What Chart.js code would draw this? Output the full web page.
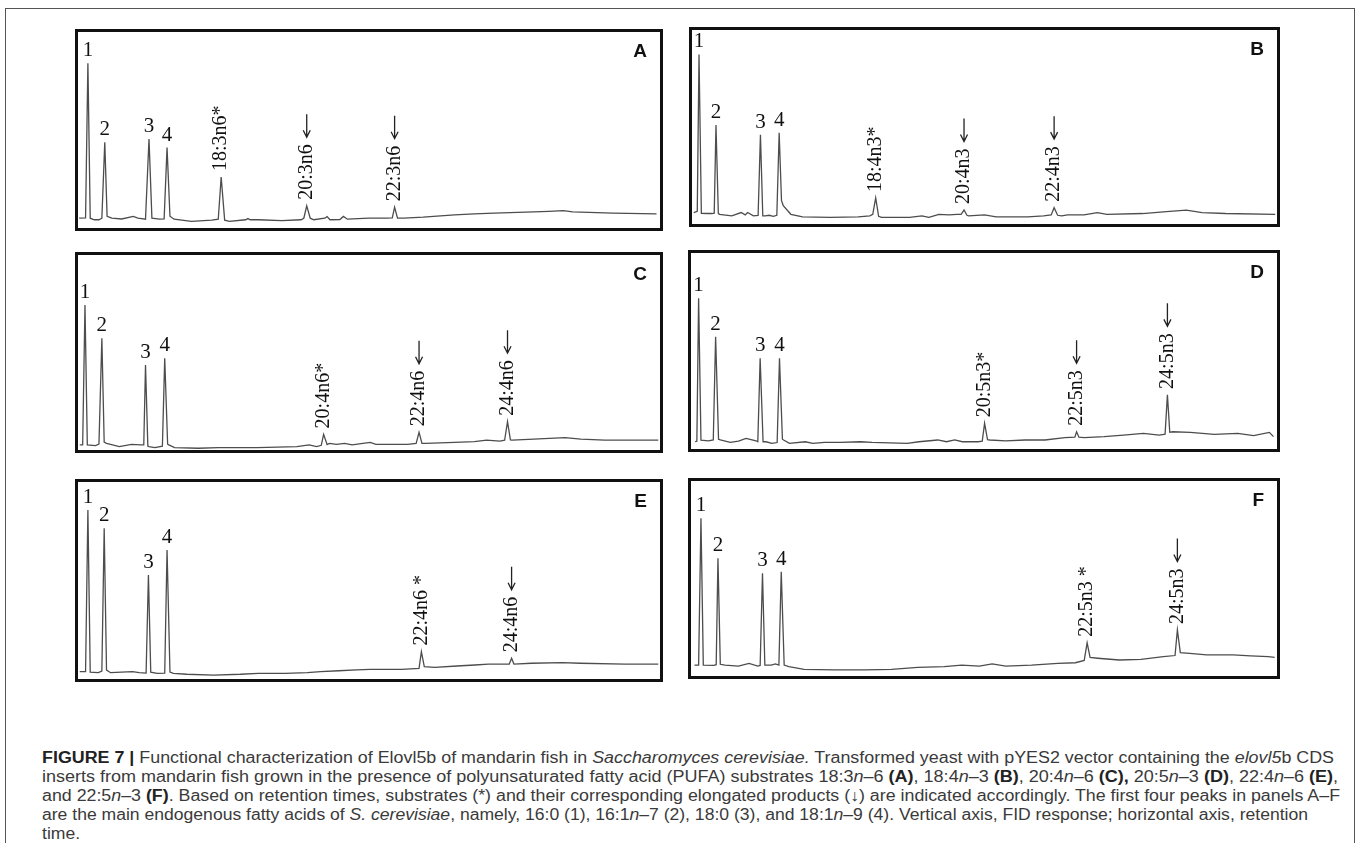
<!DOCTYPE html>
<html>
<head>
<meta charset="utf-8">
<script src="https://cdn.jsdelivr.net/npm/chart.js@4"></script>
<style>
html, body { margin: 0; padding: 0; background: #fff; }
body { width: 1357px; height: 843px; position: relative; overflow: hidden; }
#frame { position: absolute; left: 5px; top: 8px; width: 1350px; height: 900px; border: 1.5px solid #555; border-bottom: none; box-sizing: border-box; }
.panel { position: absolute; border: 3px solid #111; box-sizing: border-box; background: #fff; }
.panel canvas { display: block; }
#caption { position: absolute; left: 42px; top: 748px; color: #3a3a3a; font-family: "Liberation Sans Narrow", "Arial Narrow", "Liberation Sans", Arial, sans-serif; font-size: 16px; line-height: 19px; }
#caption b { color: #222; }
#caption .ln { display: table; white-space: nowrap; transform-origin: 0 0; }
</style>
</head>
<body>
<div id="frame"></div>

<div class="panel" style="left:75px;top:29px;width:588px;height:202px"><canvas id="cA" width="582" height="196"></canvas></div>
<div class="panel" style="left:689px;top:27px;width:591px;height:200px"><canvas id="cB" width="585" height="194"></canvas></div>
<div class="panel" style="left:75px;top:252px;width:588px;height:201px"><canvas id="cC" width="582" height="195"></canvas></div>
<div class="panel" style="left:688px;top:250px;width:592px;height:202px"><canvas id="cD" width="586" height="196"></canvas></div>
<div class="panel" style="left:75px;top:479px;width:588px;height:203px"><canvas id="cE" width="582" height="197"></canvas></div>
<div class="panel" style="left:688px;top:478px;width:592px;height:201px"><canvas id="cF" width="586" height="195"></canvas></div>

<div id="caption">
<div class="ln"><b>FIGURE 7 |</b> Functional characterization of Elovl5b of mandarin fish in <i>Saccharomyces cerevisiae.</i> Transformed yeast with pYES2 vector containing the <i>elovl5</i>b CDS</div>
<div class="ln">inserts from mandarin fish grown in the presence of polyunsaturated fatty acid (PUFA) substrates 18:3<i>n</i>–6 <b>(A)</b>, 18:4<i>n</i>–3 <b>(B)</b>, 20:4<i>n</i>–6 <b>(C),</b> 20:5<i>n</i>–3 <b>(D)</b>, 22:4<i>n</i>–6 <b>(E)</b>,</div>
<div class="ln">and 22:5<i>n</i>–3 <b>(F)</b>. Based on retention times, substrates (*) and their corresponding elongated products (↓) are indicated accordingly. The first four peaks in panels A–F</div>
<div class="ln">are the main endogenous fatty acids of <i>S. cerevisiae</i>, namely, 16:0 (1), 16:1<i>n</i>–7 (2), 18:0 (3), and 18:1<i>n</i>–9 (4). Vertical axis, FID response; horizontal axis, retention</div>
<div class="ln">time.</div>
</div>

<script>
// chromatogram traces: [retention time (% of run), FID response (% of panel)]
var traceA = [[0.2,5.0],[1.3,5.2],[1.7,84],[2.1,5.0],[2.8,4.2],[3.6,4.2],[4.1,5.0],[4.6,43.7],[5.0,6.0],[5.8,5.0],
  [7.5,4.6],[9.5,5.9],[10.3,5.0],[11.6,4.5],[12.2,45.4],[12.7,5.0],[14.0,4.5],[14.8,4.6],[15.3,41],[15.8,6.0],
  [16.5,4.5],[19.5,3.4],[23.0,4.0],[24.1,4.5],[24.6,26],[25.2,4.0],[26.0,3.4],[28.8,4.2],[29.2,4.8],[29.6,4.2],
  [31.0,4.2],[35.0,3.8],[38.3,4.2],[38.8,5.0],[39.3,11.3],[39.9,5.0],[40.5,4.2],[42.4,5.0],[42.8,5.8],[43.3,4.2],
  [45.0,4.3],[45.6,5.9],[46.3,4.5],[50.0,5.0],[53.0,5.0],[54.0,5.2],[54.4,10.6],[54.9,5.0],[56.0,5.0],[59.3,5.5],
  [64.7,6.7],[68.1,7.2],[71.5,7.6],[78.3,8.2],[80.9,8.5],[83.4,8.9],[85.0,8.2],[91.9,7.6],[99.4,7.2]];

var traceB = [[0.3,5.9],[0.9,6.5],[1.2,87.4],[1.6,5.5],[2.7,5.4],[3.4,5.4],[3.8,5.6],[4.1,51],[4.5,5.5],[4.7,5.0],
  [6.8,4.2],[8.4,5.9],[9.1,4.7],[9.5,5.9],[10.5,4.2],[11.3,4.4],[11.7,46],[12.1,4.2],[12.5,4.2],[13.2,4.5],
  [13.9,3.9],[14.5,4.5],[14.9,47],[15.3,12],[15.6,9.5],[16.9,5.0],[18.9,3.7],[23.6,3.4],[28.4,3.7],[30.4,4.2],
  [30.9,5.0],[31.4,13.4],[31.9,4.0],[32.4,3.4],[37.2,3.4],[39.3,4.2],[40.5,3.4],[42.2,5.0],[43.9,4.7],[45.3,5.0],
  [46.0,5.0],[46.5,7.2],[47.0,4.5],[47.3,4.2],[50.0,4.7],[52.0,3.7],[57.4,3.7],[60.1,4.2],[61.4,4.7],[61.9,8.4],
  [62.5,4.5],[63.2,4.2],[64.2,4.7],[67.0,4.7],[69.3,5.9],[70.9,5.0],[77.0,5.4],[81.1,6.4],[84.5,7.1],[87.2,5.9],
  [91.2,5.4],[99.7,5.0]];

var traceC = [[0.3,2.6],[0.8,2.6],[1.2,74.4],[1.6,2.6],[3.0,2.2],[3.6,3.0],[4.1,57.3],[4.5,4.0],[4.9,3.4],[7.1,1.7],
  [9.2,2.9],[10.8,2.6],[11.3,2.6],[11.6,43.6],[12.0,2.0],[12.2,1.7],[13.2,1.2],[14.5,2.0],[14.9,47],[15.4,3.0],
  [15.6,2.6],[16.6,1.2],[20.7,0.9],[24.1,1.2],[30.8,1.2],[37.6,1.7],[39.7,2.6],[41.0,1.7],[41.8,2.4],[42.2,8.0],
  [42.8,2.8],[43.2,3.4],[44.4,2.9],[45.8,3.4],[47.1,2.6],[50.2,3.9],[51.2,2.9],[56.6,2.9],[58.1,3.4],[58.6,9.1],
  [59.1,3.4],[59.7,3.4],[64.7,3.9],[68.1,4.3],[70.2,5.1],[72.5,4.6],[73.3,5.0],[73.8,14.5],[74.3,5.2],[74.6,5.1],
  [78.3,5.6],[83.7,6.3],[86.4,5.6],[90.5,5.1],[95.3,5.1],[99.7,5.1]];

var traceD = [[0.7,3.7],[1.0,4.0],[1.3,76.9],[1.7,4.5],[3.0,4.1],[3.8,4.6],[4.2,57.3],[4.7,5.0],[5.0,4.6],[6.7,3.4],
  [8.1,4.0],[9.4,5.4],[11.1,4.2],[11.4,3.7],[11.8,46.3],[12.3,3.7],[12.8,3.7],[13.8,2.9],[14.7,3.3],[15.1,46.3],
  [15.6,5.0],[15.8,4.6],[16.8,2.9],[19.5,3.7],[20.8,2.9],[22.8,3.4],[25.5,3.4],[28.9,3.7],[30.9,3.4],[36.9,2.9],
  [38.9,3.7],[42.1,4.6],[43.6,3.7],[45.0,4.6],[46.3,3.7],[49.0,3.7],[49.7,4.0],[50.1,13.1],[50.6,4.8],[51.0,4.6],
  [53.7,4.1],[57.0,4.6],[60.4,4.6],[63.8,5.8],[65.5,6.0],[65.8,8.8],[66.2,6.0],[67.1,5.8],[70.5,6.3],[73.8,7.1],
  [77.2,8.0],[79.9,7.1],[80.9,7.6],[81.3,27.6],[81.7,8.5],[82.2,8.8],[85.2,8.5],[89.3,7.5],[93.3,8.0],[96.0,6.8],
  [98.7,8.5],[99.4,6.3]];

var traceE = [[0.3,3.7],[1.3,3.7],[1.7,85.8],[2.1,3.5],[3.5,3.2],[4.1,4.0],[4.5,76.5],[4.9,4.5],[5.6,3.2],[9.4,3.7],
  [10.5,3.2],[11.7,3.0],[12.1,52.8],[12.5,3.5],[13.6,2.9],[14.9,3.0],[15.3,65.5],[15.8,3.5],[16.4,2.9],[18.7,2.4],
  [23.3,2.0],[27.9,2.4],[31.0,2.9],[35.6,2.9],[39.4,3.2],[41.7,3.7],[44.8,4.2],[47.9,4.6],[50.2,4.9],[55.6,4.9],
  [58.6,5.4],[59.0,13.9],[59.5,6.3],[61.3,5.9],[65.1,6.6],[68.2,7.1],[70.5,7.6],[74.1,7.6],[74.5,10.5],[74.9,7.6],
  [77.9,8.0],[83.2,8.3],[86.3,8.0],[94.0,7.6],[99.7,7.6]];

var traceF = [[0.6,5.6],[1.3,5.6],[1.7,80.9],[2.1,5.6],[3.9,5.4],[4.3,5.8],[4.6,60.4],[5.0,6.0],[5.8,5.6],[8.1,5.1],
  [9.9,6.5],[11.4,5.1],[11.8,5.4],[12.2,52.7],[12.6,5.6],[13.7,5.6],[14.4,6.2],[15.0,5.6],[15.4,53.5],[15.9,5.6],
  [16.7,4.8],[19.3,3.4],[24.5,3.1],[29.7,3.1],[34.2,3.4],[38.7,4.4],[43.2,4.8],[46.2,5.6],[49.2,5.1],[51.4,6.2],
  [53.7,5.1],[58.1,5.6],[62.6,6.5],[65.6,6.8],[67.1,8.0],[67.6,17.0],[68.1,9.5],[69.4,9.1],[73.1,8.2],[76.8,8.5],
  [80.6,9.9],[82.6,10.5],[83.0,23.6],[83.5,12.0],[85.1,11.6],[88.0,10.8],[92.5,10.8],[95.5,10.3],[98.5,9.9],[99.6,9.6]];

// labelled peaks: name, retention time, apex height  (* = substrate; other named peaks are products, get an arrow)
var namesA = ['1', '2', '3', '4', '18:3n6*', '20:3n6', '22:3n6'];
var timesA = [1.7, 4.6, 12.2, 15.3, 24.6, 39.3, 54.4];
var apexA  = [84, 43.7, 45.4, 41, 26, 11.3, 10.6];

var namesB = ['1', '2', '3', '4', '18:4n3*', '20:4n3', '22:4n3'];
var timesB = [1.2, 4.1, 11.7, 14.9, 31.4, 46.5, 61.9];
var apexB  = [87.4, 51, 46, 47, 13.4, 7.2, 8.4];

var namesC = ['1', '2', '3', '4', '20:4n6*', '22:4n6', '24:4n6'];
var timesC = [1.2, 4.1, 11.6, 14.9, 42.2, 58.6, 73.8];
var apexC  = [74.4, 57.3, 43.6, 47, 8.0, 9.1, 14.5];

var namesD = ['1', '2', '3', '4', '20:5n3*', '22:5n3', '24:5n3'];
var timesD = [1.3, 4.2, 11.8, 15.1, 50.1, 65.8, 81.3];
var apexD  = [76.9, 57.3, 46.3, 46.3, 13.1, 8.8, 27.6];

var namesE = ['1', '2', '3', '4', '22:4n6 *', '24:4n6'];
var timesE = [1.7, 4.5, 12.1, 15.3, 59.0, 74.5];
var apexE  = [85.8, 76.5, 52.8, 65.5, 13.9, 10.5];

var namesF = ['1', '2', '3', '4', '22:5n3 *', '24:5n3'];
var timesF = [1.7, 4.6, 12.2, 15.4, 67.6, 83.0];
var apexF  = [80.9, 60.4, 52.7, 53.5, 17.0, 23.6];

var panels = [
  { id: 'A', trace: traceA, names: namesA, times: timesA, apex: apexA },
  { id: 'B', trace: traceB, names: namesB, times: timesB, apex: apexB },
  { id: 'C', trace: traceC, names: namesC, times: timesC, apex: apexC },
  { id: 'D', trace: traceD, names: namesD, times: timesD, apex: apexD },
  { id: 'E', trace: traceE, names: namesE, times: timesE, apex: apexE },
  { id: 'F', trace: traceF, names: namesF, times: timesF, apex: apexF }
];

var SERIF = '"Liberation Serif", "Times New Roman", Times, serif';

// draws panel letter, peak numbers, rotated fatty acid names and product arrows
function peakLabels(p) {
  return {
    id: 'peakLabels' + p.id,
    afterDatasetsDraw: function(chart) {
      var ctx = chart.ctx, xs = chart.scales.x, ys = chart.scales.y, area = chart.chartArea;
      ctx.save();
      ctx.fillStyle = '#111';
      ctx.strokeStyle = '#222';
      ctx.lineWidth = 1.3;

      ctx.font = 'bold 19px "Liberation Sans", Arial, sans-serif';
      ctx.textAlign = 'right';
      ctx.textBaseline = 'middle';
      ctx.fillText(p.id, area.right - 13, area.top + 20);

      for (var i = 0; i < p.names.length; i++) {
        var name = p.names[i];
        var x = xs.getPixelForValue(p.times[i]);
        var y = ys.getPixelForValue(p.apex[i]);
        if (name.length == 1) {
          ctx.font = '21px ' + SERIF;
          ctx.textAlign = 'center';
          ctx.textBaseline = 'alphabetic';
          ctx.fillText(name, x, y - 7);
          continue;
        }
        ctx.font = '20px ' + SERIF;
        ctx.save();
        ctx.translate(x, y - 6);
        ctx.rotate(-Math.PI / 2);
        ctx.textAlign = 'left';
        ctx.textBaseline = 'middle';
        ctx.fillText(name, 0, 0);
        ctx.restore();
        if (name.indexOf('*') < 0) {
          var top = y - 6 - ctx.measureText(name).width - 7;
          ctx.beginPath();
          ctx.moveTo(x, top - 23);
          ctx.lineTo(x, top);
          ctx.moveTo(x - 3.5, top - 7);
          ctx.lineTo(x, top);
          ctx.lineTo(x + 3.5, top - 7);
          ctx.stroke();
        }
      }
      ctx.restore();
    }
  };
}

panels.forEach(function(p) {
  new Chart(document.getElementById('c' + p.id), {
    type: 'line',
    data: {
      datasets: [{
        data: p.trace.map(function(d) { return { x: d[0], y: d[1] }; }),
        borderColor: '#4d4d4d',
        borderWidth: 1.3,
        pointRadius: 0,
        tension: 0,
        fill: false
      }]
    },
    options: {
      responsive: false,
      animation: false,
      events: [],
      layout: { padding: 0 },
      scales: {
        x: { type: 'linear', min: 0, max: 100, display: false },
        y: { min: 0, max: 100, display: false }
      },
      plugins: { legend: { display: false }, tooltip: { enabled: false } }
    },
    plugins: [peakLabels(p)]
  });
});

// squeeze each caption line to its printed width
var lineWidths = [1292, 1296, 1298, 1266];
var lines = document.querySelectorAll('#caption .ln');
var k = 1;
lines.forEach(function(l, i) {
  if (i < lineWidths.length) k = lineWidths[i] / l.getBoundingClientRect().width;
  l.style.transform = 'scaleX(' + k + ')';
});
</script>
</body>
</html>
